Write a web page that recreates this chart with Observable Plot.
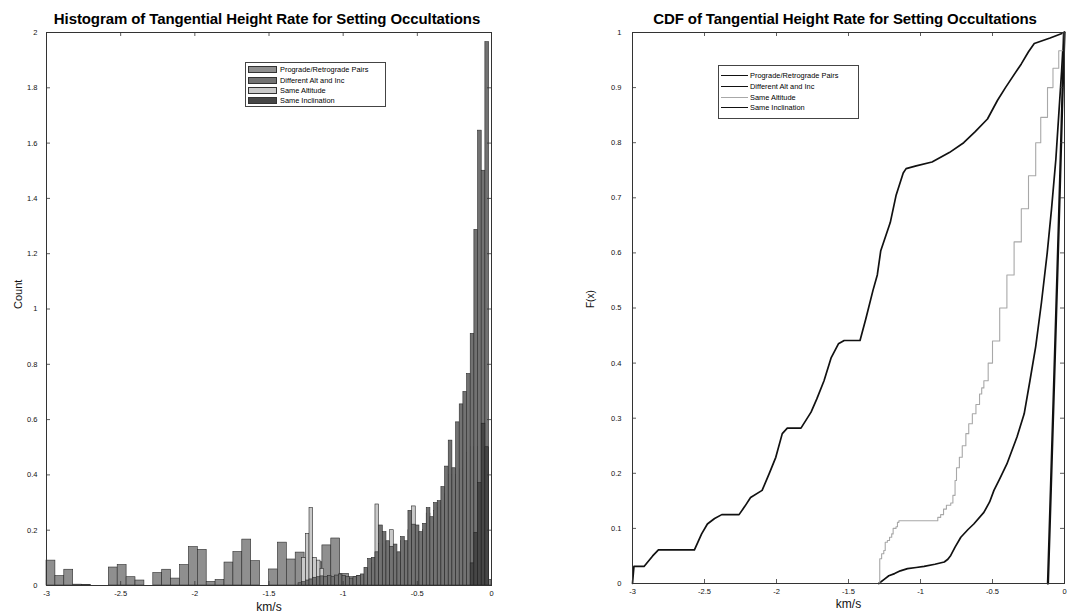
<!DOCTYPE html>
<html>
<head>
<meta charset="utf-8">
<script src="https://cdn.jsdelivr.net/npm/d3@7"></script>
<script src="https://cdn.jsdelivr.net/npm/@observablehq/plot@0.6"></script>
<style>
  body { margin: 0; background: #fff; }
  #wrap { position: relative; width: 1081px; height: 615px; overflow: hidden; font-family: "Liberation Sans", Arial, sans-serif; color: #000; }
  .panel { position: absolute; top: 0; }
  .title { position: absolute; top: 10px; font-weight: bold; font-size: 15px; white-space: nowrap; transform: translateX(-50%); letter-spacing: -0.1px; }
  .legend { position: absolute; box-sizing: border-box; border: 1px solid #444; background: #fff; font-size: 7.4px; color: #000; }
  .legend .row { position: absolute; left: 0; height: 9px; display: flex; align-items: center; white-space: nowrap; }
  .legend .sw { display: inline-block; box-sizing: border-box; border: 0.8px solid #333; margin-right: 3px; }
  .legend .ln { display: inline-block; margin-right: 2px; }
</style>
</head>
<body>
<div id="wrap"></div>
<script>
// ---- series ----
const seriesNames = ["Prograde/Retrograde Pairs", "Different Alt and Inc", "Same Altitude", "Same Inclination"];
const barFills = ["#8f8f8f", "#727272", "#c9c9c9", "#464646"];
const cdfStrokes = ["#111111", "#111111", "#a8a8a8", "#111111"];
const cdfWidths = [1.7, 1.7, 1.1, 2.3];

// ---- histogram: prograde/retrograde pairs, wide bins ----
const proStart = -3, proWidth = 0.06;
const proCounts = [
  0.090, 0.034, 0.057, 0.003, 0.002, 0, 0, 0.065, 0.074, 0.030,
  0.018, 0, 0.045, 0.057, 0.025, 0.074, 0.139, 0.129, 0.013, 0.020,
  0.083, 0.121, 0.166, 0.088, 0, 0.058, 0.155, 0.094, 0.119, 0.099,
  0.084, 0.145, 0.170, 0.042, 0.030, 0.035, 0.040, 0.040, 0.045, 0.040,
  0.050, 0.080, 0.090, 0.080, 0.075, 0.070, 0.060, 0.020, 0.015, 0.020
];

// ---- histogram: narrow bins shared by the other three cases ----
const narrowStart = -1.301, narrowWidth = 0.0247;
const daiCounts = [
  0.008, 0.012, 0.018, 0.022, 0.028, 0.030, 0.033, 0.030, 0.035, 0.030,
  0.036, 0.040, 0.035, 0.030, 0.025, 0.030, 0.035, 0.040, 0.064, 0.096,
  0.100, 0.120, 0.217, 0.193, 0.160, 0.140, 0.148, 0.120, 0.175, 0.160,
  0.270, 0.220, 0.217, 0.193, 0.223, 0.280, 0.247, 0.298, 0.305, 0.356,
  0.430, 0.524, 0.424, 0.590, 0.655, 0.700, 0.765, 0.910, 1.286, 1.645,
  1.500, 1.965
];
const saCounts = [
  0, 0.100, 0.187, 0.280, 0.100, 0.090, 0.060, 0, 0, 0,
  0, 0, 0, 0, 0, 0, 0, 0, 0.030, 0.060,
  0.080, 0.293, 0.150, 0.120, 0.100, 0.200, 0.100, 0.080, 0.160, 0.150,
  0.200, 0.286, 0.190, 0.170, 0.200, 0.260, 0.230, 0.270, 0.280, 0.300,
  0.330, 0.400, 0.380, 0.400, 0.420, 0.450, 0.480, 0.500, 0.500, 0.500,
  0.450, 0.400
];
const siFirstBin = 47;
const siCounts = [0.080, 0.190, 0.370, 0.585, 0.500];

// ---- empirical CDFs: [km/s, F(x)] ----
const cdfPrograde = [
  [-3, 0], [-2.99, 0.031], [-2.92, 0.031], [-2.86, 0.050], [-2.82, 0.061], [-2.57, 0.061],
  [-2.52, 0.090], [-2.48, 0.108], [-2.43, 0.118], [-2.38, 0.125], [-2.26, 0.125], [-2.22, 0.140],
  [-2.18, 0.156], [-2.10, 0.169], [-2.05, 0.200], [-2.005, 0.229], [-1.96, 0.272], [-1.925, 0.282],
  [-1.83, 0.282], [-1.76, 0.311], [-1.72, 0.335], [-1.67, 0.368], [-1.62, 0.410], [-1.57, 0.435],
  [-1.53, 0.441], [-1.42, 0.441], [-1.38, 0.480], [-1.33, 0.532], [-1.30, 0.560], [-1.276, 0.604],
  [-1.21, 0.655], [-1.17, 0.704], [-1.12, 0.745], [-1.10, 0.753], [-1.03, 0.758], [-0.92, 0.765],
  [-0.80, 0.782], [-0.70, 0.800], [-0.62, 0.820], [-0.535, 0.843], [-0.465, 0.877], [-0.41, 0.900],
  [-0.30, 0.943], [-0.25, 0.965], [-0.21, 0.980], [-0.10, 0.990], [0, 1]
];
const cdfDiffAltInc = [
  [-1.29, 0], [-1.25, 0.008], [-1.22, 0.014], [-1.18, 0.018], [-1.14, 0.023], [-1.09, 0.027],
  [-1.03, 0.029], [-0.975, 0.031], [-0.90, 0.035], [-0.835, 0.039], [-0.81, 0.044], [-0.79, 0.051],
  [-0.76, 0.066], [-0.72, 0.084], [-0.67, 0.098], [-0.63, 0.108], [-0.56, 0.129], [-0.52, 0.148],
  [-0.49, 0.169], [-0.45, 0.190], [-0.40, 0.217], [-0.33, 0.266], [-0.28, 0.308], [-0.24, 0.368],
  [-0.20, 0.430], [-0.16, 0.510], [-0.12, 0.600], [-0.09, 0.680], [-0.06, 0.770], [-0.04, 0.850],
  [-0.02, 0.930], [-0.005, 1]
];
const cdfSameAlt = [
  [-1.29, 0], [-1.283, 0.045], [-1.27, 0.054], [-1.255, 0.060], [-1.245, 0.075], [-1.23, 0.078],
  [-1.215, 0.084], [-1.20, 0.090], [-1.19, 0.100], [-1.17, 0.103], [-1.16, 0.111], [-1.15, 0.114],
  [-0.88, 0.120], [-0.86, 0.125], [-0.84, 0.135], [-0.82, 0.142], [-0.79, 0.146], [-0.775, 0.160],
  [-0.76, 0.187], [-0.75, 0.210], [-0.73, 0.229], [-0.71, 0.250], [-0.685, 0.272], [-0.665, 0.290],
  [-0.64, 0.308], [-0.615, 0.325], [-0.59, 0.344], [-0.575, 0.355], [-0.56, 0.368], [-0.53, 0.400],
  [-0.50, 0.440], [-0.45, 0.500], [-0.40, 0.560], [-0.35, 0.620], [-0.30, 0.680], [-0.25, 0.740],
  [-0.20, 0.800], [-0.165, 0.846], [-0.118, 0.900], [-0.08, 0.935], [-0.04, 0.967], [-0.01, 1]
];
const cdfSameInc = [
  [-0.115, 0], [-0.095, 0.170], [-0.072, 0.368], [-0.05, 0.560], [-0.03, 0.740], [-0.015, 0.880], [0, 1]
];

// ---- axes ----
const xTicks = [-3, -2.5, -2, -1.5, -1, -0.5, 0];
const histYTicks = [0, 0.2, 0.4, 0.6, 0.8, 1, 1.2, 1.4, 1.6, 1.8, 2];
const cdfYTicks = [0, 0.1, 0.2, 0.3, 0.4, 0.5, 0.6, 0.7, 0.8, 0.9, 1];
const histTitle = "Histogram of Tangential Height Rate for Setting Occultations";
const cdfTitle = "CDF of Tangential Height Rate for Setting Occultations";
const xLabel = "km/s";
const histYLabel = "Count";
const cdfYLabel = "F(x)";

const FONT = "'Liberation Sans', Arial, sans-serif";
const wrap = document.getElementById("wrap");

function binsOf(counts, start, width, offset = 0) {
  return counts.map((c, i) => ({x1: start + (i + offset) * width, x2: start + (i + offset + 1) * width, y: c}))
    .filter(d => d.y > 0);
}

// inward MATLAB-style ticks on all four sides plus box
function boxTicks(yTicks, plotW, plotH, yPad) {
  const t = 4;
  return [
    Plot.tickX(xTicks, {x: d => d, insetTop: plotH - t, stroke: "#333", strokeWidth: 0.8}),
    Plot.tickX(xTicks, {x: d => d, insetBottom: plotH - t, stroke: "#333", strokeWidth: 0.8}),
    Plot.tickY(yTicks, {y: d => d, insetRight: plotW - t, stroke: "#333", strokeWidth: 0.8}),
    Plot.tickY(yTicks, {y: d => d, insetLeft: plotW - t, stroke: "#333", strokeWidth: 0.8}),
    Plot.frame({stroke: "#333", strokeWidth: 1}),
    Plot.axisX({ticks: xTicks, tickSize: 0, tickPadding: 5, tickFormat: d => String(d), label: null, fontSize: 7.5}),
    Plot.axisY({ticks: yTicks, tickSize: 0, tickPadding: yPad, tickFormat: d => String(d), label: null, fontSize: 7.5})
  ];
}

// ---- left panel: histogram ----
const hM = {top: 32, right: 9, bottom: 30, left: 46}, hW = 500, hH = 615;
const hist = Plot.plot({
  width: hW, height: hH,
  marginTop: hM.top, marginRight: hM.right, marginBottom: hM.bottom, marginLeft: hM.left,
  style: {fontFamily: FONT, fontSize: "7.5px", color: "#111", background: "transparent", overflow: "visible"},
  x: {domain: [-3, 0]},
  y: {domain: [0, 2]},
  marks: [
    Plot.rectY(binsOf(proCounts, proStart, proWidth), {x1: "x1", x2: "x2", y1: 0, y2: "y", fill: barFills[0], stroke: "#2a2a2a", strokeWidth: 0.6}),
    Plot.rectY(binsOf(saCounts, narrowStart, narrowWidth), {x1: "x1", x2: "x2", y1: 0, y2: "y", fill: barFills[2], stroke: "#2a2a2a", strokeWidth: 0.6}),
    Plot.rectY(binsOf(daiCounts, narrowStart, narrowWidth), {x1: "x1", x2: "x2", y1: 0, y2: "y", fill: barFills[1], stroke: "#2a2a2a", strokeWidth: 0.6}),
    Plot.rectY(binsOf(siCounts, narrowStart, narrowWidth, siFirstBin), {x1: "x1", x2: "x2", y1: 0, y2: "y", fill: barFills[3], stroke: "#222", strokeWidth: 0.6}),
    ...boxTicks(histYTicks, hW - hM.left - hM.right, hH - hM.top - hM.bottom, 9),
    Plot.text([xLabel], {text: d => d, frameAnchor: "bottom", dy: 25, fontSize: 12}),
    Plot.text([histYLabel], {text: d => d, frameAnchor: "left", dx: -28, rotate: -90, fontSize: 11})
  ]
});
hist.classList.add("panel");
hist.style.left = "0px";
wrap.appendChild(hist);

// ---- right panel: CDF ----
const cM = {top: 32, right: 17, bottom: 32, left: 92}, cW = 541, cH = 615;
const cdfSets = [cdfPrograde, cdfDiffAltInc, cdfSameAlt, cdfSameInc];
const cdf = Plot.plot({
  width: cW, height: cH,
  marginTop: cM.top, marginRight: cM.right, marginBottom: cM.bottom, marginLeft: cM.left,
  style: {fontFamily: FONT, fontSize: "7.5px", color: "#111", background: "transparent", overflow: "visible"},
  x: {domain: [-3, 0]},
  y: {domain: [0, 1]},
  marks: [
    ...cdfSets.map((pts, i) => Plot.line(pts, {
      x: d => d[0], y: d => d[1],
      stroke: cdfStrokes[i], strokeWidth: cdfWidths[i],
      curve: i === 2 ? "step-after" : "linear"
    })),
    ...boxTicks(cdfYTicks, cW - cM.left - cM.right, cH - cM.top - cM.bottom, 11),
    Plot.text([xLabel], {text: d => d, frameAnchor: "bottom", dy: 24, fontSize: 12}),
    Plot.text([cdfYLabel], {text: d => d, frameAnchor: "left", dx: -42, rotate: -90, fontSize: 10})
  ]
});
cdf.classList.add("panel");
cdf.style.left = "540px";
wrap.appendChild(cdf);

// ---- titles ----
function addTitle(text, cx) {
  const t = document.createElement("div");
  t.className = "title";
  t.textContent = text;
  t.style.left = cx + "px";
  wrap.appendChild(t);
}
addTitle(histTitle, 267);
addTitle(cdfTitle, 845);

// ---- legends ----
function addLegend(left, top, w, h, rowTops, kind) {
  const box = document.createElement("div");
  box.className = "legend";
  Object.assign(box.style, {left: left + "px", top: top + "px", width: w + "px", height: h + "px"});
  seriesNames.forEach((name, i) => {
    const row = document.createElement("div");
    row.className = "row";
    row.style.top = rowTops[i] + "px";
    row.style.left = "2px";
    const key = document.createElement("span");
    if (kind === "bar") {
      key.className = "sw";
      Object.assign(key.style, {width: "29px", height: "7px", background: barFills[i]});
    } else {
      key.className = "ln";
      Object.assign(key.style, {width: "27px", height: "0px", borderTop: `${Math.max(1, cdfWidths[i] * 0.8)}px solid ${cdfStrokes[i]}`});
    }
    const label = document.createElement("span");
    label.textContent = name;
    row.appendChild(key);
    row.appendChild(label);
    box.appendChild(row);
  });
  wrap.appendChild(box);
}
addLegend(245, 62, 141, 45, [2, 12.5, 23, 33], "bar");
addLegend(718, 65, 141, 54, [5, 16, 26.5, 37], "line");
</script>
</body>
</html>
